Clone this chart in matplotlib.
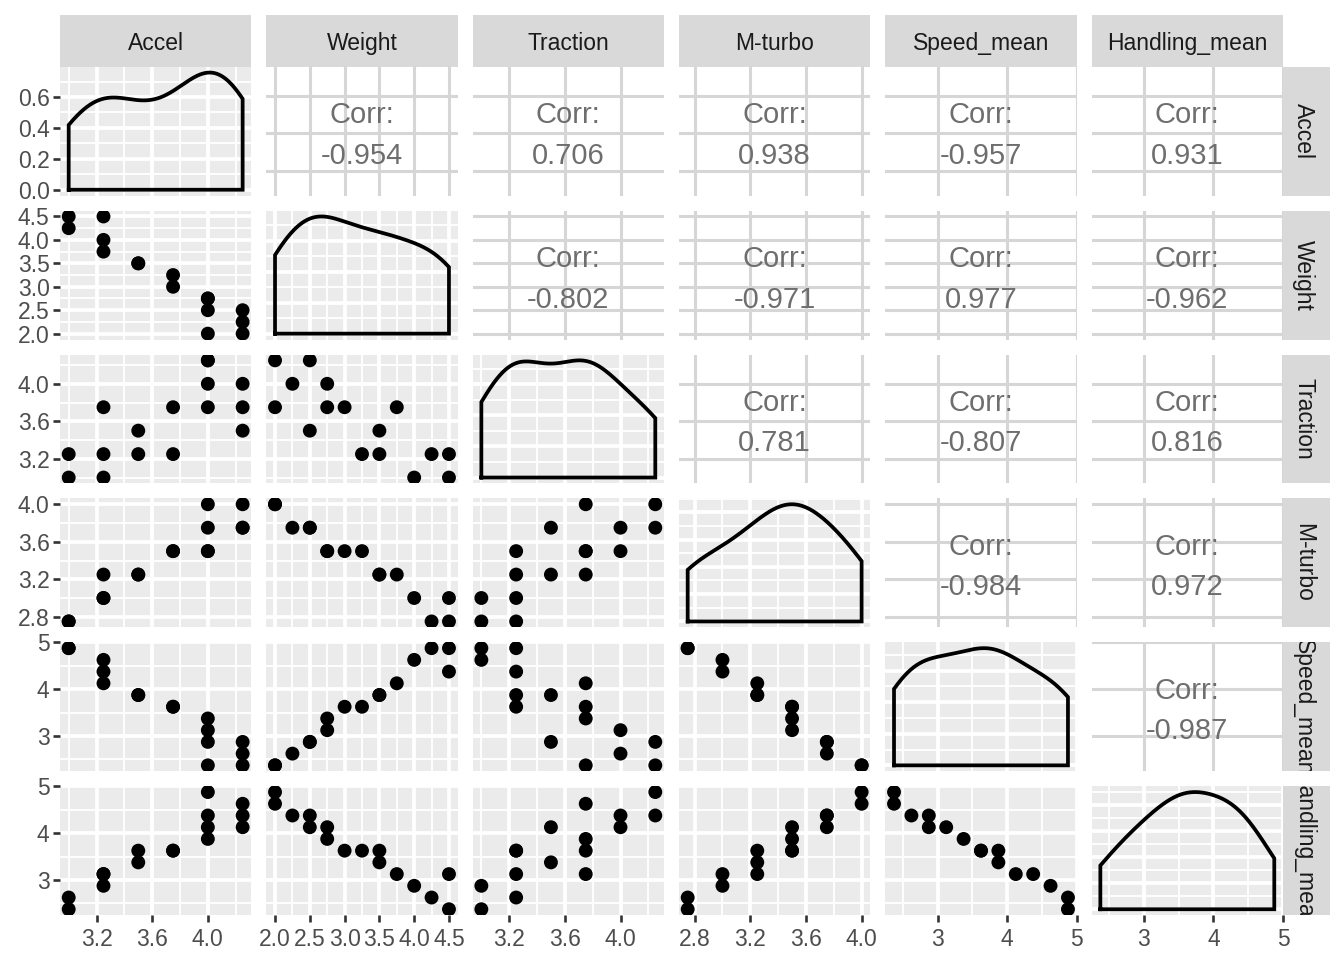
import numpy as np
import matplotlib
matplotlib.use("Agg")
import matplotlib.pyplot as plt
from matplotlib.ticker import MaxNLocator

plt.rcParams['font.family'] = ['Liberation Sans', 'DejaVu Sans']

# data (one row per kart class)
names = ["Accel", "Weight", "Traction", "M-turbo", "Speed_mean", "Handling_mean"]
accel = [3.0, 3.0, 3.25, 3.25, 3.25, 3.5, 3.5, 3.75, 3.75, 4.0, 4.0, 4.0, 4.25, 4.25, 4.0, 4.25]
weight = [4.5, 4.25, 4.5, 4.0, 3.75, 3.5, 3.5, 3.25, 3.0, 2.75, 2.75, 2.5, 2.5, 2.25, 2.0, 2.0]
traction = [3.0, 3.25, 3.25, 3.0, 3.75, 3.5, 3.25, 3.25, 3.75, 4.0, 3.75, 4.25, 3.5, 4.0, 4.25, 3.75]
mturbo = [2.75, 2.75, 3.0, 3.0, 3.25, 3.25, 3.25, 3.5, 3.5, 3.5, 3.5, 3.75, 3.75, 3.75, 4.0, 4.0]
speed_mean = [4.875, 4.875, 4.375, 4.625, 4.125, 3.875, 3.875, 3.625, 3.625,
              3.125, 3.375, 2.875, 2.875, 2.625, 2.375, 2.375]
handling_mean = [2.375, 2.625, 3.125, 2.875, 3.125, 3.375, 3.625, 3.625, 3.625,
                 4.125, 3.875, 4.375, 4.125, 4.375, 4.875, 4.625]

# axis breaks / tick labels per variable
accel_breaks = [3.2, 3.6, 4.0]
weight_breaks = [2.0, 2.5, 3.0, 3.5, 4.0, 4.5]
traction_breaks = [3.2, 3.6, 4.0]
mturbo_breaks = [2.8, 3.2, 3.6, 4.0]
speed_breaks = [3, 4, 5]
handling_breaks = [3, 4, 5]

accel_labels = ["3.2", "3.6", "4.0"]
weight_labels = ["2.0", "2.5", "3.0", "3.5", "4.0", "4.5"]
traction_labels = ["3.2", "3.6", "4.0"]
mturbo_labels = ["2.8", "3.2", "3.6", "4.0"]
speed_labels = ["3", "4", "5"]
handling_labels = ["3", "4", "5"]

cols = [np.array(v, dtype=float) for v in
        (accel, weight, traction, mturbo, speed_mean, handling_mean)]
brks = [accel_breaks, weight_breaks, traction_breaks, mturbo_breaks, speed_breaks, handling_breaks]
labs = [accel_labels, weight_labels, traction_labels, mturbo_labels, speed_labels, handling_labels]

PANEL_BG = "#EBEBEB"
STRIP_BG = "#D9D9D9"
TXT = 16.5


def expand(lo, hi):
    d = (hi - lo) * 0.05
    return lo - d, hi + d


def minors(b, lo, hi):
    step = b[1] - b[0]
    m = np.arange(b[0] - step / 2, b[-1] + step, step)
    return [v for v in m if lo <= v <= hi]


def kde(x, grid):
    # gaussian kernel, bw.nrd0 like R
    n = len(x)
    q75, q25 = np.percentile(x, [75, 25])
    bw = 0.9 * min(np.std(x, ddof=1), (q75 - q25) / 1.34) * n ** (-0.2)
    z = (grid[:, None] - x[None, :]) / bw
    return np.exp(-0.5 * z ** 2).sum(axis=1) / (n * bw * np.sqrt(2 * np.pi))


fig = plt.figure(figsize=(13.44, 9.6), dpi=100)
FW, FH = 1344.0, 960.0
L, W, G = 60.0, 191.33, 15.0
T, H, GV = 66.7, 128.9, 15.0
STRIP = 51.7

n = len(names)
for r in range(n):
    for c in range(n):
        x0 = L + c * (W + G)
        y0 = T + r * (H + GV)
        ax = fig.add_axes([x0 / FW, 1 - (y0 + H) / FH, W / FW, H / FH])
        for s in ax.spines.values():
            s.set_visible(False)
        xv, yv = cols[c], cols[r]
        xlo, xhi = expand(xv.min(), xv.max())
        ax.set_xlim(xlo, xhi)
        ax.set_xticks(brks[c])
        ax.set_xticklabels(labs[c])

        if r == c:
            grid = np.linspace(xv.min(), xv.max(), 512)
            dens = kde(xv, grid)
            ylo, yhi = expand(0, dens.max())
            ax.set_ylim(ylo, yhi)
            yb = [v for v in MaxNLocator(nbins=5, steps=[1, 2, 2.5, 5, 10]).tick_values(ylo, yhi)
                  if ylo <= v <= yhi]
            ax.set_yticks(yb)
            ax.set_yticklabels(["%.1f" % v for v in yb])
            ax.set_yticks(minors(yb, ylo, yhi), minor=True)
            ax.set_xticks(minors(brks[c], xlo, xhi), minor=True)
            ax.set_facecolor(PANEL_BG)
            ax.grid(which='major', color='white', lw=2.7)
            ax.grid(which='minor', color='white', lw=1.35)
            px = np.concatenate([[grid[0]], grid, [grid[-1], grid[0]]])
            py = np.concatenate([[0], dens, [0, 0]])
            ax.plot(px, py, color='black', lw=2.7, solid_joinstyle='miter', zorder=3)
        else:
            ylo, yhi = expand(yv.min(), yv.max())
            ax.set_ylim(ylo, yhi)
            ax.set_yticks(brks[r])
            ax.set_yticklabels(labs[r])
            if r > c:
                ax.set_xticks(minors(brks[c], xlo, xhi), minor=True)
                ax.set_yticks(minors(brks[r], ylo, yhi), minor=True)
                ax.set_facecolor(PANEL_BG)
                ax.grid(which='major', color='white', lw=2.7)
                ax.grid(which='minor', color='white', lw=1.35)
                ax.scatter(xv, yv, s=100, c='black', edgecolors='none', zorder=3)
            else:
                ax.set_facecolor('white')
                ax.grid(which='major', color='#D6D6D6', lw=2.2)
                rho = np.corrcoef(xv, yv)[0, 1]
                ax.text(0.5, 0.625, "Corr:", transform=ax.transAxes, ha='center', va='center',
                        fontsize=21, color='#6E6E6E')
                ax.text(0.5, 0.31, "%.3f" % rho, transform=ax.transAxes, ha='center', va='center',
                        fontsize=21, color='#6E6E6E')
        ax.set_axisbelow(True)

        ax.tick_params(which='minor', length=0)
        ax.tick_params(axis='x', which='major', bottom=(r == n - 1), labelbottom=(r == n - 1),
                       length=5, width=1.9, color='#333333', labelcolor='#4D4D4D',
                       labelsize=TXT, pad=4)
        ax.tick_params(axis='y', which='major', left=(c == 0), labelleft=(c == 0),
                       length=5, width=1.9, color='#333333', labelcolor='#4D4D4D',
                       labelsize=TXT, pad=2.5)

        if r == 0:
            sa = fig.add_axes([x0 / FW, 1 - y0 / FH, W / FW, STRIP / FH])
            sa.set_facecolor(STRIP_BG)
            sa.set_xticks([])
            sa.set_yticks([])
            for s in sa.spines.values():
                s.set_visible(False)
            sa.text(0.5, 0.44, names[c], ha='center', va='center', fontsize=TXT,
                    color='#1A1A1A', transform=sa.transAxes, clip_on=True)
        if c == n - 1:
            sa = fig.add_axes([(x0 + W) / FW, 1 - (y0 + H) / FH, 47.0 / FW, H / FH])
            sa.set_facecolor(STRIP_BG)
            sa.set_xticks([])
            sa.set_yticks([])
            for s in sa.spines.values():
                s.set_visible(False)
            sa.text(0.44, 0.5, names[r], ha='center', va='center', fontsize=TXT, rotation=-90,
                    color='#1A1A1A', transform=sa.transAxes, clip_on=True)

fig.savefig("out.png", dpi=100)
